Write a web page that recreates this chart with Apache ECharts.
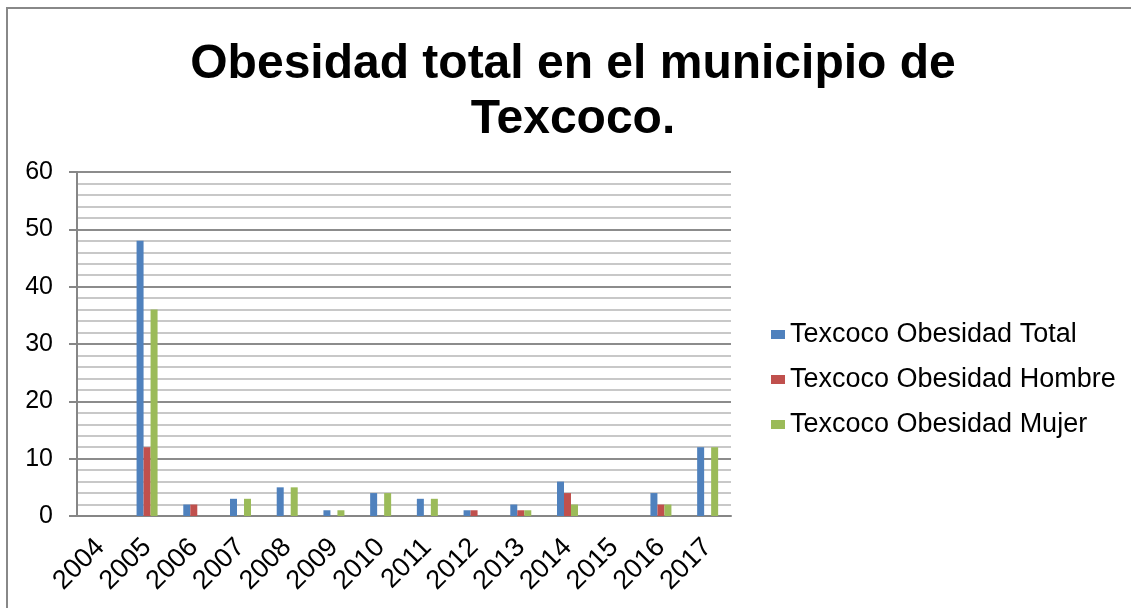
<!DOCTYPE html>
<html>
<head>
<meta charset="utf-8">
<script src="https://cdn.jsdelivr.net/npm/echarts@6/dist/echarts.min.js"></script>
<style>
    html, body { margin: 0; padding: 0; background: #fff; }
    #chart { width: 1131px; height: 608px; }
</style>
</head>
<body>
<div id="chart"></div>
<script>
var years = ['2004', '2005', '2006', '2007', '2008', '2009', '2010', '2011', '2012', '2013', '2014', '2015', '2016', '2017'];
var obesidadTotal = [0, 48, 2, 3, 5, 1, 4, 3, 1, 2, 6, 0, 4, 12];
var obesidadHombre = [0, 12, 2, 0, 0, 0, 0, 0, 1, 1, 4, 0, 2, 0];
var obesidadMujer = [0, 36, 0, 3, 5, 1, 4, 3, 0, 1, 2, 0, 2, 12];
var yTicks = [0, 10, 20, 30, 40, 50, 60];

var fontName = '"Liberation Sans", Arial, sans-serif';

var myChart = echarts.init(document.getElementById('chart'));

function barSeries(name, color, data) {
    return {
        name: name,
        type: 'bar',
        barWidth: 7,
        barGap: '0%',
        itemStyle: { color: color },
        data: data
    };
}

var option = {
    backgroundColor: '#fff',
    animation: false,
    title: {
        text: 'Obesidad total en el municipio de\nTexcoco.',
        left: 568,
        top: 32,
        textAlign: 'center',
        textStyle: {
            fontFamily: fontName,
            fontSize: 48,
            fontWeight: 'bold',
            color: '#000',
            lineHeight: 55
        }
    },
    legend: {
        orient: 'vertical',
        left: 766,
        top: 316,
        icon: 'rect',
        itemWidth: 14,
        itemHeight: 9,
        itemGap: 18,
        textStyle: {
            fontFamily: fontName,
            fontSize: 27,
            lineHeight: 27,
            color: '#000'
        },
        data: ['Texcoco Obesidad Total', 'Texcoco Obesidad Hombre', 'Texcoco Obesidad Mujer']
    },
    grid: {
        left: 77,
        right: 400,
        top: 172,
        bottom: 92
    },
    xAxis: [{
        type: 'category',
        data: years,
        axisLine: { lineStyle: { color: '#868686', width: 2 } },
        axisTick: { show: false },
        axisLabel: {
            rotate: 45,
            margin: 27,
            interval: 0,
            padding: [8, 0, 0, 0],
            fontFamily: fontName,
            fontSize: 27,
            color: '#000'
        }
    }],
    yAxis: [{
        type: 'value',
        min: yTicks[0],
        max: yTicks[yTicks.length - 1],
        interval: 10,
        axisLine: { show: true, lineStyle: { color: '#868686', width: 2 } },
        axisTick: { show: true, length: 8, lineStyle: { color: '#868686', width: 2 } },
        axisLabel: {
            margin: 24,
            fontFamily: fontName,
            fontSize: 25,
            color: '#000'
        },
        splitLine: { lineStyle: { color: '#8c8c8c', width: 2 } },
        minorTick: { show: false, splitNumber: 5 },
        minorSplitLine: { show: true, lineStyle: { color: '#c8c8c8', width: 2 } }
    }],
    series: [
        barSeries('Texcoco Obesidad Total', '#4F81BD', obesidadTotal),
        barSeries('Texcoco Obesidad Hombre', '#C0504D', obesidadHombre),
        barSeries('Texcoco Obesidad Mujer', '#9BBB59', obesidadMujer)
    ],
    graphic: [{
        type: 'rect',
        shape: { x: 7, y: 8, width: 1140, height: 620 },
        style: { fill: 'none', stroke: '#888', lineWidth: 2 },
        silent: true
    }]
};

myChart.setOption(option);
</script>
</body>
</html>
